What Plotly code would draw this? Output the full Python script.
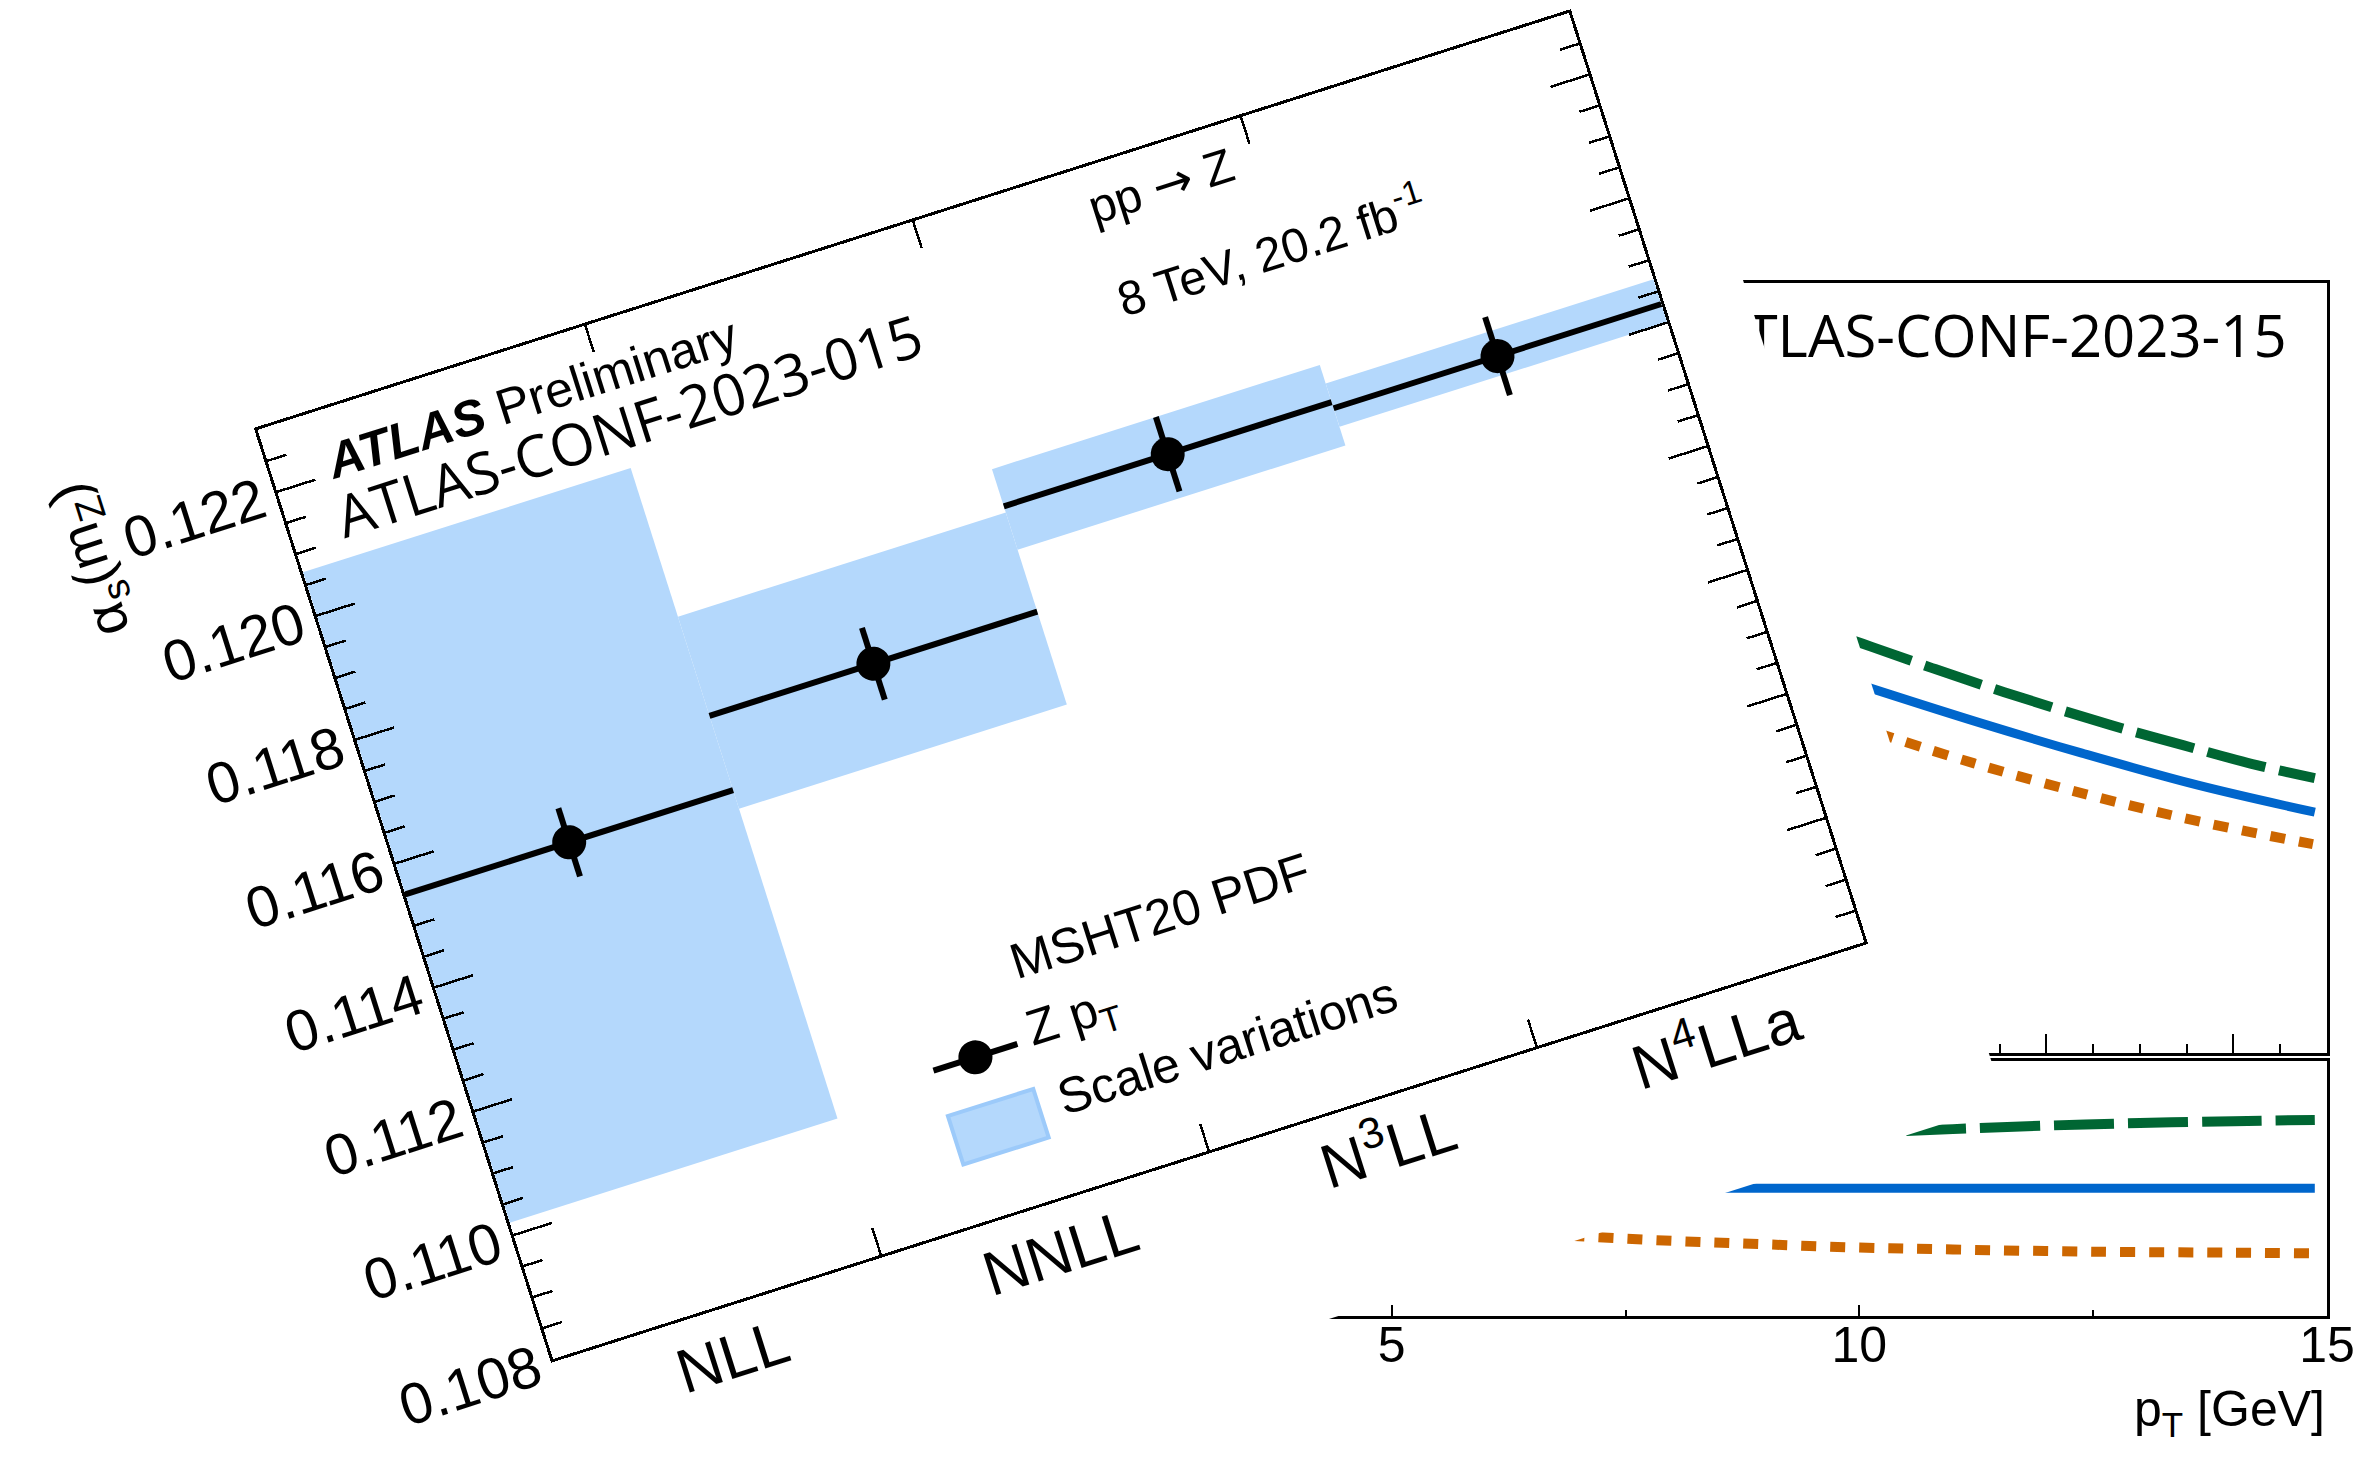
import plotly.graph_objects as go

# ---------------------------------------------------------------------------
# alpha_s(mZ) from the Z pT fit, by logarithmic accuracy (front panel)
# ---------------------------------------------------------------------------
orders = ["NLL", "NNLL", "N<sup>3</sup>LL", "N<sup>4</sup>LLa"]
alpha_s = [0.1155, 0.1167, 0.1184, 0.1183]
alpha_s_err = [0.00055, 0.00058, 0.00060, 0.00063]
scale_lo = [0.1102, 0.1152, 0.1177, 0.1180]
scale_hi = [0.1207, 0.1183, 0.1190, 0.1187]
alpha_range = [0.108, 0.123]

# ---------------------------------------------------------------------------
# Z pT predictions (background panel): upper distribution and lower ratio
# ---------------------------------------------------------------------------
pt_up_green = [9.95, 10.14, 10.78, 11.55, 12.69, 13.46, 14.25, 14.87]
up_green = [0.0412, 0.0406, 0.0385, 0.0361, 0.0328, 0.0308, 0.0288, 0.0275]
pt_up_blue = [10.05, 11.30, 12.38, 13.62, 14.87]
up_blue = [0.0367, 0.0330, 0.0300, 0.0268, 0.0241]
pt_up_orange = [10.20, 11.22, 12.46, 13.62, 14.85]
up_orange = [0.0320, 0.0290, 0.0258, 0.0232, 0.0209]

pt_lo_green = [10.5, 11.0, 12.0, 13.0, 14.0, 14.87]
lo_green = [1.0180, 1.0186, 1.0197, 1.0205, 1.0211, 1.0215]
pt_lo_blue = [8.5, 10.0, 12.5, 14.87]
lo_blue = [1.0, 1.0, 1.0, 1.0]
pt_lo_orange = [6.9, 8.0, 9.0, 10.0, 11.0, 12.5, 14.0, 14.85]
lo_orange = [0.9851, 0.9835, 0.9824, 0.9814, 0.9808, 0.9801, 0.9798, 0.9796]
pt_ticks = [5, 10, 15]

BAND = "#b4d8fc"
BAND_EDGE = "#9ccafa"
GREEN = "#006633"
BLUE = "#0066cc"
ORANGE = "#cc6600"
SANS = "Liberation Sans, Arial, Helvetica, sans-serif"
CONF = "Open Sans, Noto Sans, sans-serif"
ARROW = "<span style='font-family:DejaVu Sans'>\u2192</span>"

# ---------------------------------------------------------------------------
# Background figure: two-panel pT plot filling the page
# ---------------------------------------------------------------------------
back = go.Figure()
back.add_trace(go.Scatter(x=pt_up_green, y=up_green, mode="lines", line=dict(color=GREEN, width=10, dash="60px,14px", shape="spline"), xaxis="x", yaxis="y"))
back.add_trace(go.Scatter(x=pt_up_blue, y=up_blue, mode="lines", line=dict(color=BLUE, width=9, shape="spline"), xaxis="x", yaxis="y"))
back.add_trace(go.Scatter(x=pt_up_orange, y=up_orange, mode="lines", line=dict(color=ORANGE, width=10, dash="15px,14px", shape="spline"), xaxis="x", yaxis="y"))
back.add_trace(go.Scatter(x=pt_lo_green, y=lo_green, mode="lines", line=dict(color=GREEN, width=10, dash="60px,14px", shape="spline"), xaxis="x2", yaxis="y2"))
back.add_trace(go.Scatter(x=pt_lo_blue, y=lo_blue, mode="lines", line=dict(color=BLUE, width=9), xaxis="x2", yaxis="y2"))
back.add_trace(go.Scatter(x=pt_lo_orange, y=lo_orange, mode="lines", line=dict(color=ORANGE, width=10, dash="15px,14px", shape="spline"), xaxis="x2", yaxis="y2"))

frame = dict(showline=True, linecolor="black", linewidth=2.5, mirror=True, showgrid=False, zeroline=False)
back.update_layout(
    template="none", width=2366, height=1458, showlegend=False,
    margin=dict(l=0, r=0, t=0, b=0, autoexpand=False),
    paper_bgcolor="white", plot_bgcolor="white",
    font=dict(family=SANS, color="black"),
    xaxis=dict(domain=[0.5487, 0.9835], range=[4, 15], anchor="y", ticks="inside", tick0=0, dtick=2,
               ticklen=20, tickwidth=2, tickcolor="black", showticklabels=False,
               minor=dict(dtick=0.5, tick0=0, ticks="inside", ticklen=10, tickwidth=2, tickcolor="black", showgrid=False), **frame),
    yaxis=dict(domain=[0.2776, 0.8059], range=[0, 0.077], anchor="x", ticks="", showticklabels=False, **frame),
    xaxis2=dict(domain=[0.5487, 0.9835], range=[4, 15], anchor="y2", ticks="inside", tickmode="array", tickvals=pt_ticks,
                ticklen=11, tickwidth=2, tickcolor="black", tickfont=dict(size=50), ticklabelstandoff=-16,
                minor=dict(dtick=2.5, tick0=0, ticks="inside", ticklen=6, tickwidth=2, tickcolor="black", showgrid=False), **frame),
    yaxis2=dict(domain=[0.0976, 0.2723], range=[0.96, 1.04], anchor="x2", ticks="", showticklabels=False, **frame),
    annotations=[
        dict(text="ATLAS-CONF-2023-15", xref="paper", yref="paper", x=0.9675, y=0.7709, xanchor="right", yanchor="middle",
             showarrow=False, font=dict(family=CONF, size=58, color="black")),
        dict(text="p<sub>T</sub> [GeV]", xref="paper", yref="paper", x=0.9835, y=0.031, xanchor="right", yanchor="middle",
             showarrow=False, font=dict(size=50, color="black")),
    ],
)

# ---------------------------------------------------------------------------
# Front figure: alpha_s(mZ) per order, drawn on an opaque card that is tilted
# ---------------------------------------------------------------------------
PW, PH = 1376, 975          # plot-area size in px
ML, MR, MT, MB = 260, 85, 120, 197
FW, FH = ML + PW + MR, MT + PH + MB
TILT = 17.64                # card tilt, degrees counter-clockwise
ORIGIN = (552.9, 1358.7)    # where the plot-area bottom-left corner sits on the page

centers = [i + 0.5 for i in range(len(orders))]
half_bins = [0.5] * len(orders)

front = go.Figure()
front.add_trace(go.Bar(x=centers, y=[h - l for h, l in zip(scale_hi, scale_lo)], base=scale_lo, width=1.0,
                       marker=dict(color=BAND, line=dict(width=0)), showlegend=False))
front.add_trace(go.Scatter(x=centers, y=alpha_s, mode="markers", marker=dict(color="black", size=34),
                           error_x=dict(type="data", array=half_bins, color="black", thickness=6, width=0),
                           error_y=dict(type="data", array=alpha_s_err, color="black", thickness=6, width=0),
                           showlegend=False))

ax_common = dict(showline=True, linecolor="black", linewidth=3, mirror="ticks", showgrid=False, zeroline=False)
front.update_layout(
    template="none", width=FW, height=FH, showlegend=False, barmode="overlay",
    margin=dict(l=ML, r=MR, t=MT, b=MB, autoexpand=False),
    paper_bgcolor="white", plot_bgcolor="white",
    font=dict(family=SANS, color="black"),
    xaxis=dict(range=[0, len(orders)], tickmode="array", tickvals=centers, ticktext=orders,
               ticks="inside", ticklen=0, tickfont=dict(size=62), ticklabelstandoff=-4,
               minor=dict(tickmode="array", tickvals=[1, 2, 3], ticks="inside", ticklen=28, tickwidth=2.5,
                          tickcolor="black", showgrid=False), **ax_common),
    yaxis=dict(range=alpha_range, tick0=0.108, dtick=0.002, tickformat=".3f",
               ticks="inside", ticklen=40, tickwidth=2.5, tickcolor="black", tickfont=dict(size=58),
               minor=dict(tick0=0.108, dtick=0.0005, ticks="inside", ticklen=20, tickwidth=2.5,
                          tickcolor="black", showgrid=False), **ax_common),
    annotations=[
        dict(text="<b><i>ATLAS</i></b> Preliminary", x=0.157, y=0.12218, xanchor="left", yanchor="middle",
             showarrow=False, font=dict(size=50)),
        dict(text="ATLAS-CONF-2023-015", x=0.14, y=0.12135, xanchor="left", yanchor="middle",
             showarrow=False, font=dict(family=CONF, size=58)),
        dict(text="pp " + ARROW + " Z", x=2.494, y=0.12237, xanchor="left", yanchor="middle",
             showarrow=False, font=dict(size=48)),
        dict(text="8 TeV, 20.2 fb<sup>-1</sup>", x=2.494, y=0.12092, xanchor="left", yanchor="middle",
             showarrow=False, font=dict(size=48)),
        dict(text="\u03b1<sub>s</sub>(m<sub>Z</sub>)", xref="paper", yref="paper", x=-0.143, y=0.925,
             xanchor="center", yanchor="middle", textangle=-90, showarrow=False, font=dict(size=55)),
        # legend
        dict(text="MSHT20 PDF", xref="paper", yref="paper", x=0.403, y=0.2446, xanchor="left", yanchor="middle",
             showarrow=False, font=dict(size=50)),
        dict(text="Z p<sub>T</sub>", xref="paper", yref="paper", x=0.400, y=0.1708, xanchor="left", yanchor="middle",
             showarrow=False, font=dict(size=50)),
        dict(text="Scale variations", xref="paper", yref="paper", x=0.406, y=0.0964, xanchor="left", yanchor="middle",
             showarrow=False, font=dict(size=50)),
    ],
    shapes=[
        dict(type="line", xref="paper", yref="paper", x0=0.327, x1=0.391, y0=0.1636, y1=0.1636,
             line=dict(color="black", width=6)),
        dict(type="circle", xref="paper", yref="paper", x0=0.359 - 0.0124, x1=0.359 + 0.0124,
             y0=0.1636 - 0.0174, y1=0.1636 + 0.0174, fillcolor="black", line=dict(color="black", width=0)),
        dict(type="rect", xref="paper", yref="paper", x0=0.3270, x1=0.3921, y0=0.0625, y1=0.1147,
             fillcolor=BAND, line=dict(color=BAND_EDGE, width=4)),
    ],
)

# Place the front card on the page, tilted about its plot-area corner
left = ORIGIN[0] - ML
top = ORIGIN[1] - (MT + PH)
card_css = ("position:absolute;left:%.1fpx;top:%.1fpx;width:%dpx;height:%dpx;"
            "transform-origin:%dpx %dpx;transform:rotate(-%.2fdeg);" % (left, top, FW, FH, ML, MT + PH, TILT))

post = (
    "document.documentElement.style.overflow='hidden';"
    "document.body.style.margin='0';document.body.style.overflow='hidden';"
    "var gd=document.getElementById('{plot_id}');"
    "gd.style.position='absolute';gd.style.left='0px';gd.style.top='0px';"
    "var card=document.createElement('div');"
    "card.style.cssText='" + card_css + "';"
    "document.body.appendChild(card);"
    "var spec=" + front.to_json() + ";"
    "Plotly.newPlot(card, spec.data, spec.layout, {displayModeBar:false, staticPlot:true});"
)

back.write_html("out.html", include_plotlyjs=True, config={"displayModeBar": False}, post_script=post)
